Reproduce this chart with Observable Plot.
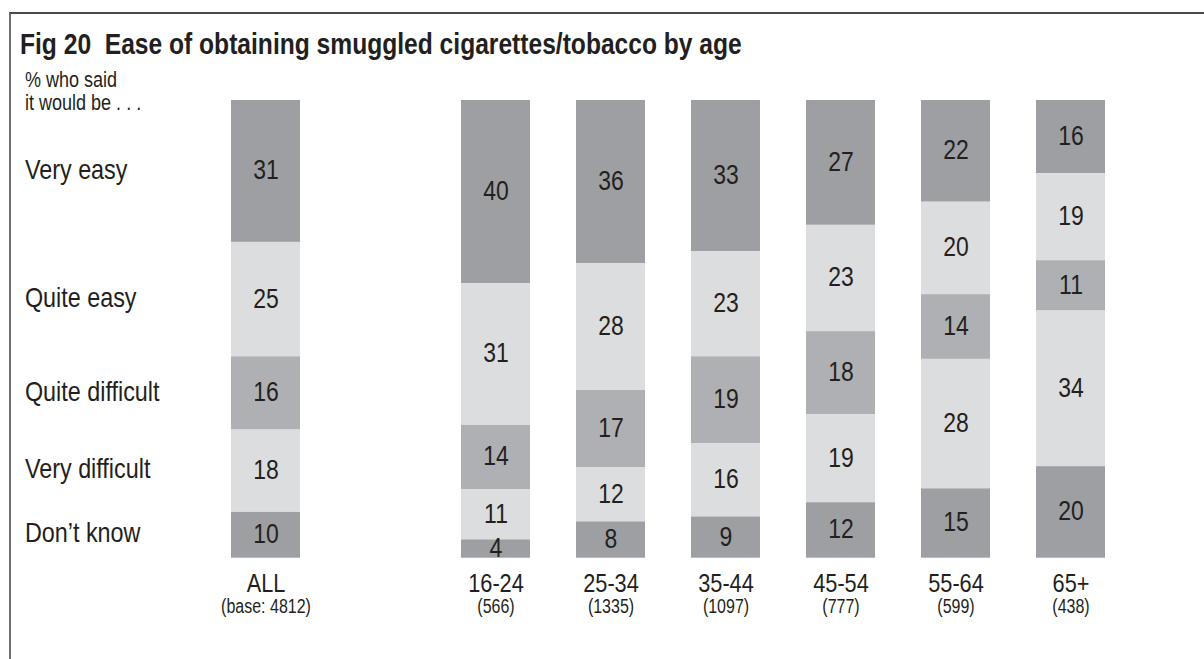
<!DOCTYPE html>
<html>
<head>
<meta charset="utf-8">
<script src="https://cdn.jsdelivr.net/npm/d3@7"></script>
<script src="https://cdn.jsdelivr.net/npm/@observablehq/plot@0.6"></script>
<style>
  html, body { margin: 0; padding: 0; background: #fff; width: 1204px; height: 659px; overflow: hidden; }
  body { position: relative; font-family: "Liberation Sans", Arial, sans-serif; color: #231f20; }
  #frame { position: absolute; left: 9px; top: 12px; width: 1220px; height: 700px; border-top: 2px solid #4a4a4a; border-left: 2px solid #6e6e6e; box-sizing: border-box; }
  #title { position: absolute; left: 20px; top: 29px; font-size: 30px; font-weight: bold; line-height: 30px; white-space: pre; color: #231f20; transform: scaleX(0.82); transform-origin: 0 0; }
  #chart { position: absolute; left: 0; top: 62px; }
</style>
</head>
<body>
<div id="frame"></div>
<div id="title">Fig 20  Ease of obtaining smuggled cigarettes/tobacco by age</div>
<div id="chart"></div>
<script>
// Data
const categories = ["Very easy", "Quite easy", "Quite difficult", "Very difficult", "Don’t know"];
const groups = ["ALL", "16-24", "25-34", "35-44", "45-54", "55-64", "65+"];
const bases = ["(base: 4812)", "(566)", "(1335)", "(1097)", "(777)", "(599)", "(438)"];
const veryEasy       = [31, 40, 36, 33, 27, 22, 16];
const quiteEasy      = [25, 31, 28, 23, 23, 20, 19];
const quiteDifficult = [16, 14, 17, 19, 18, 14, 11];
const veryDifficult  = [18, 11, 12, 16, 19, 28, 34];
const dontKnow       = [10,  4,  8,  9, 12, 15, 20];
const noteText = "% who said\nit would be . . .";
const spacer = " ";

const seriesByCategory = [veryEasy, quiteEasy, quiteDifficult, veryDifficult, dontKnow];
const rows = [];
groups.forEach((g, i) => {
  categories.forEach((c, j) => {
    rows.push({group: g, category: c, value: seriesByCategory[j][i]});
  });
});
const groupRows = groups.map((g, i) => ({group: g, base: bases[i]}));
const allRows = rows.filter(d => d.group === "ALL");

const stackOrder = ["Don’t know", "Very difficult", "Quite difficult", "Quite easy", "Very easy"];
const colors = ["#9e9fa2", "#dcdddf", "#afb0b3", "#dcdddf", "#9e9fa2"];

const FONT = '"Liberation Sans", Arial, sans-serif';
const NARROW = 0.82;

const chart = Plot.plot({
  width: 1204,
  height: 597,
  marginLeft: 181.4,
  marginRight: 49.4,
  marginTop: 38,
  marginBottom: 101.3,
  style: {fontFamily: FONT, color: "#231f20", background: "transparent", overflow: "visible"},
  x: {domain: [groups[0], spacer, ...groups.slice(1)], padding: 0.4, axis: null},
  y: {domain: [0, 1], axis: null},
  color: {domain: categories, range: colors},
  marks: [
    Plot.barY(rows, Plot.stackY({
      x: "group", y: "value", z: "category", fill: "category",
      order: stackOrder, offset: "normalize"
    })),
    Plot.text(rows, Plot.stackY({
      x: "group", y: "value", z: "category", text: d => String(d.value),
      order: stackOrder, offset: "normalize",
      fontSize: 28, fill: "#231f20", dy: -1
    })),
    // Category labels at left, aligned with the ALL bar segments
    Plot.text(allRows, Plot.stackY({
      y: "value", z: "category", text: "category",
      order: stackOrder, offset: "normalize",
      frameAnchor: "left", textAnchor: "start", dx: -157, dy: -2,
      fontSize: 28.5, fill: "#231f20"
    })),
    // Note at the top-left
    Plot.text([noteText], {
      text: d => d, frameAnchor: "top-left", textAnchor: "start",
      lineAnchor: "middle", lineHeight: 1.05, dx: -157, dy: -9,
      fontSize: 22, fill: "#231f20"
    }),
    // Group labels
    Plot.text(groupRows, {
      x: "group", text: "group", frameAnchor: "bottom", dy: 34,
      fontSize: 26.5, fill: "#231f20"
    }),
    Plot.text(groupRows, {
      x: "group", text: "base", frameAnchor: "bottom", dy: 55,
      fontSize: 19.5, fill: "#231f20"
    })
  ]
});

// Condense all chart text horizontally, like a narrow typeface
chart.querySelectorAll("text").forEach(el => {
  const tr = el.getAttribute("transform") || "";
  const x = el.getAttribute("x");
  let extra = "";
  if (x != null) { extra = ` translate(${x},0)`; el.removeAttribute("x"); }
  el.setAttribute("transform", `${tr}${extra} scale(${NARROW},1)`);
});
document.getElementById("chart").appendChild(chart);
</script>
</body>
</html>
